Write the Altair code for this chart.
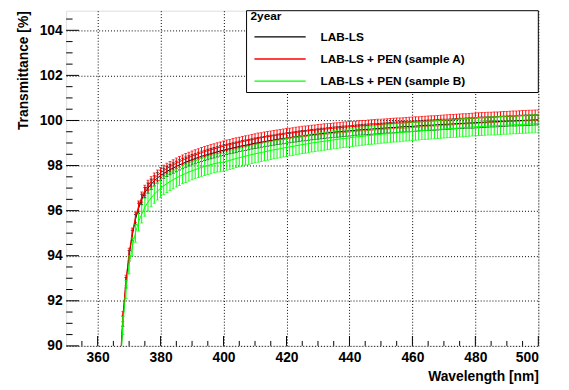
import altair as alt
import pandas as pd

# ---------------- data ----------------
WAVELENGTH = list(range(366, 501))

LAB_LS = [
    85.4, 88.6, 91.1, 92.8, 94.0, 94.9, 95.6, 96.1, 96.5, 96.8,
    97.0, 97.17, 97.32, 97.45, 97.56, 97.65, 97.74, 97.82, 97.89, 97.96,
    98.03, 98.09, 98.15, 98.21, 98.26, 98.31, 98.36, 98.41, 98.45, 98.49,
    98.53, 98.57, 98.61, 98.65, 98.68, 98.72, 98.75, 98.78, 98.81, 98.85,
    98.88, 98.90, 98.93, 98.96, 98.99, 99.01, 99.04, 99.06, 99.09, 99.11,
    99.13, 99.16, 99.18, 99.20, 99.22, 99.24, 99.26, 99.28, 99.30, 99.32,
    99.33, 99.35, 99.37, 99.38, 99.40, 99.42, 99.43, 99.45, 99.46, 99.48,
    99.49, 99.50, 99.52, 99.53, 99.54, 99.55, 99.57, 99.58, 99.59, 99.60,
    99.61, 99.62, 99.63, 99.64, 99.65, 99.66, 99.67, 99.68, 99.69, 99.70,
    99.71, 99.72, 99.73, 99.73, 99.74, 99.75, 99.76, 99.77, 99.78, 99.79,
    99.79, 99.80, 99.81, 99.82, 99.83, 99.83, 99.84, 99.85, 99.86, 99.87,
    99.87, 99.88, 99.89, 99.89, 99.90, 99.91, 99.92, 99.92, 99.93, 99.94,
    99.94, 99.95, 99.96, 99.96, 99.97, 99.98, 99.98, 99.99, 100.00, 100.00,
    100.01, 100.01, 100.02, 100.03, 100.03,
]

SAMPLE_A = [
    85.6, 88.8, 91.3, 92.9, 94.1, 95.0, 95.7, 96.2, 96.6, 96.9,
    97.12, 97.29, 97.44, 97.57, 97.68, 97.78, 97.87, 97.95, 98.03, 98.10,
    98.17, 98.24, 98.30, 98.36, 98.42, 98.47, 98.52, 98.57, 98.62, 98.66,
    98.70, 98.74, 98.78, 98.82, 98.86, 98.90, 98.93, 98.97, 99.00, 99.03,
    99.06, 99.09, 99.12, 99.15, 99.18, 99.21, 99.23, 99.26, 99.28, 99.30,
    99.33, 99.35, 99.37, 99.39, 99.41, 99.43, 99.45, 99.47, 99.49, 99.51,
    99.52, 99.54, 99.56, 99.57, 99.59, 99.60, 99.62, 99.63, 99.64, 99.66,
    99.67, 99.68, 99.70, 99.71, 99.72, 99.73, 99.74, 99.76, 99.77, 99.77,
    99.79, 99.80, 99.81, 99.82, 99.83, 99.84, 99.85, 99.86, 99.87, 99.88,
    99.88, 99.89, 99.90, 99.91, 99.92, 99.93, 99.93, 99.95, 99.96, 99.97,
    99.98, 99.98, 99.99, 100.00, 100.01, 100.02, 100.03, 100.04, 100.05, 100.06,
    100.07, 100.07, 100.08, 100.09, 100.10, 100.11, 100.12, 100.12, 100.13, 100.14,
    100.15, 100.15, 100.16, 100.17, 100.17, 100.18, 100.19, 100.19, 100.20, 100.21,
    100.21, 100.22, 100.22, 100.23, 100.23,
]

SAMPLE_B = [
    85.1, 88.3, 90.9, 92.5, 93.6, 94.4, 95.0, 95.5, 95.85, 96.15,
    96.38, 96.57, 96.73, 96.87, 96.99, 97.10, 97.20, 97.29, 97.37, 97.45,
    97.52, 97.59, 97.65, 97.71, 97.77, 97.82, 97.87, 97.92, 97.96, 98.00,
    98.04, 98.08, 98.11, 98.13, 98.15, 98.19, 98.23, 98.27, 98.31, 98.35,
    98.38, 98.42, 98.45, 98.49, 98.52, 98.55, 98.58, 98.61, 98.64, 98.67,
    98.70, 98.72, 98.75, 98.78, 98.80, 98.83, 98.85, 98.88, 98.90, 98.93,
    98.95, 98.97, 99.00, 99.02, 99.04, 99.06, 99.08, 99.10, 99.12, 99.14,
    99.16, 99.18, 99.20, 99.21, 99.23, 99.25, 99.27, 99.28, 99.30, 99.31,
    99.33, 99.34, 99.36, 99.37, 99.39, 99.40, 99.41, 99.43, 99.44, 99.45,
    99.46, 99.48, 99.49, 99.50, 99.51, 99.52, 99.53, 99.55, 99.56, 99.57,
    99.58, 99.59, 99.60, 99.61, 99.62, 99.63, 99.64, 99.65, 99.66, 99.67,
    99.68, 99.69, 99.70, 99.71, 99.72, 99.73, 99.73, 99.74, 99.75, 99.76,
    99.76, 99.77, 99.78, 99.79, 99.79, 99.80, 99.81, 99.81, 99.82, 99.83,
    99.83, 99.84, 99.85, 99.85, 99.86,
]

SERIES = ["LAB-LS", "LAB-LS + PEN (sample A)", "LAB-LS + PEN (sample B)"]
ERRORS = [0.23, 0.23, 0.40]
COLORS = ["#000000", "#ff0000", "#00ff00"]
LEGEND_TITLE = "2year"

X_MAJOR = [360, 380, 400, 420, 440, 460, 480, 500]
X_MINOR = [355, 365, 370, 375, 385, 390, 395, 405, 410, 415, 425, 430, 435,
           445, 450, 455, 465, 470, 475, 485, 490, 495]
Y_MAJOR = [90, 92, 94, 96, 98, 100, 102, 104]
Y_MINOR = [90.5, 91, 91.5, 92.5, 93, 93.5, 94.5, 95, 95.5, 96.5, 97, 97.5,
           98.5, 99, 99.5, 100.5, 101, 101.5, 102.5, 103, 103.5, 104.5]

X_DOMAIN = [350, 500]
Y_DOMAIN = [90, 104.87]

# ---------------- layout ----------------
W, H = 479, 340
FONT = "Liberation Sans"

rows = []
for name, vals, err in zip(SERIES, [LAB_LS, SAMPLE_A, SAMPLE_B], ERRORS):
    for wl, v in zip(WAVELENGTH, vals):
        rows.append({"wl": wl, "T": v, "lo": v - err, "hi": v + err, "series": name})
df = pd.DataFrame(rows)

xs = alt.Scale(domain=X_DOMAIN, nice=False, zero=False)
ys = alt.Scale(domain=Y_DOMAIN, nice=False, zero=False)

xaxis = alt.Axis(
    values=X_MAJOR, grid=True, ticks=False, domain=False, format="d",
    labelFont=FONT, labelFontWeight="bold", labelFontSize=14, labelColor="black",
    labelPadding=5, title="Wavelength [nm]", titleFont=FONT, titleFontWeight="bold",
    titleFontSize=14, titleColor="black", titleAnchor="end", titlePadding=5,
    gridColor="black", gridDash=[1, 2], gridWidth=1, gridOpacity=1,
)
yaxis = alt.Axis(
    values=Y_MAJOR, grid=True, ticks=False, domain=False, format="d",
    labelFont=FONT, labelFontWeight="bold", labelFontSize=14, labelColor="black",
    labelPadding=4, title="Transmittance [%]", titleFont=FONT, titleFontWeight="bold",
    titleFontSize=14, titleColor="black", titleAnchor="end", titlePadding=9,
    gridColor="black", gridDash=[1, 2], gridWidth=1, gridOpacity=1,
)

xenc = alt.X("wl:Q", scale=xs, axis=xaxis)

color_enc = alt.Color(
    "series:N",
    scale=alt.Scale(domain=SERIES, range=COLORS),
    sort=SERIES,
    legend=alt.Legend(
        title=LEGEND_TITLE, orient="none", legendX=187, legendY=0,
        direction="vertical", symbolType="stroke", symbolSize=2704,
        symbolStrokeWidth=1.3, clipHeight=13, rowPadding=9.5,
        titlePadding=8, labelOffset=14, symbolOffset=3, padding=0,
        labelFont=FONT, labelFontWeight="bold", labelFontSize=12,
        labelColor="black", labelLimit=400,
        titleFont=FONT, titleFontWeight="bold", titleFontSize=12,
        titleColor="black",
    ),
)

layers = []
for name, col in zip(SERIES, COLORS):
    base = alt.Chart(df).transform_filter(alt.datum.series == name)
    bars = base.mark_rule(color=col, strokeWidth=1, clip=True).encode(
        x=xenc, y=alt.Y("lo:Q", scale=ys, axis=yaxis), y2="hi:Q"
    )
    cap_lo = base.mark_tick(color=col, orient="horizontal", size=3, thickness=1, clip=True).encode(
        x=xenc, y=alt.Y("lo:Q", scale=ys, axis=yaxis)
    )
    cap_hi = base.mark_tick(color=col, orient="horizontal", size=3, thickness=1, clip=True).encode(
        x=xenc, y=alt.Y("hi:Q", scale=ys, axis=yaxis)
    )
    line = base.mark_line(strokeWidth=1, clip=True).encode(
        x=xenc, y=alt.Y("T:Q", scale=ys, axis=yaxis), color=color_enc
    )
    layers += [bars, cap_lo, cap_hi, line]

# legend box (white, covers the grid)
legend_box = alt.Chart(pd.DataFrame({"a": [0]})).mark_rect(
    fill="white", stroke="black", strokeWidth=1
).encode(x=alt.value(183), x2=alt.value(W), y=alt.value(0), y2=alt.value(83))

# inward ticks (ROOT style)
xmaj = alt.Chart(pd.DataFrame({"t": X_MAJOR})).mark_rule(color="black", strokeWidth=1).encode(
    x=alt.X("t:Q", scale=xs, axis=xaxis), y=alt.value(H), y2=alt.value(H - 10)
)
xmin = alt.Chart(pd.DataFrame({"t": X_MINOR})).mark_rule(color="black", strokeWidth=1).encode(
    x=alt.X("t:Q", scale=xs, axis=xaxis), y=alt.value(H), y2=alt.value(H - 5)
)
ymaj = alt.Chart(pd.DataFrame({"t": Y_MAJOR})).mark_rule(color="black", strokeWidth=1).encode(
    y=alt.Y("t:Q", scale=ys, axis=yaxis), x=alt.value(0), x2=alt.value(13)
)
ymin = alt.Chart(pd.DataFrame({"t": Y_MINOR})).mark_rule(color="black", strokeWidth=1).encode(
    y=alt.Y("t:Q", scale=ys, axis=yaxis), x=alt.value(0), x2=alt.value(6.5)
)

chart = alt.layer(*layers, legend_box, xmaj, xmin, ymaj, ymin).properties(
    width=W, height=H,
    autosize=alt.AutoSizeParams(type="none"),
    padding={"left": 59, "top": 0, "right": 23, "bottom": 40},
).configure_view(stroke="black", strokeWidth=1.5).configure(background="white")

chart.save("out.html", embed_options={"renderer": "svg", "actions": False})
